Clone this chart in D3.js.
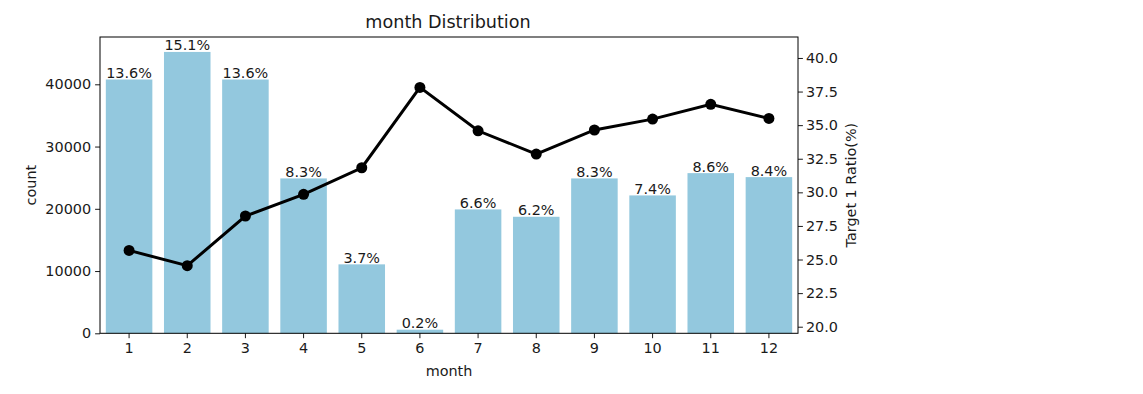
<!DOCTYPE html>
<html>
<head>
<meta charset="utf-8">
<script src="https://cdn.jsdelivr.net/npm/d3@7"></script>
<style>
  body { margin: 0; background: #fff; }
  text { font-family: "DejaVu Sans", sans-serif; }
</style>
</head>
<body>
<div id="chart-area"></div>
<script>
const months = ["1", "2", "3", "4", "5", "6", "7", "8", "9", "10", "11", "12"];
const counts = [40770, 45200, 40770, 24880, 11075, 580, 19900, 18720, 24880, 22150, 25730, 25090];
const pctLabels = ["13.6%", "15.1%", "13.6%", "8.3%", "3.7%", "0.2%", "6.6%", "6.2%", "8.3%", "7.4%", "8.6%", "8.4%"];
const ratios = [25.68, 24.54, 28.24, 29.85, 31.83, 37.81, 34.58, 32.85, 34.64, 35.45, 36.55, 35.5];
const countTicks = [0, 10000, 20000, 30000, 40000];
const ratioTicks = [20, 22.5, 25, 27.5, 30, 32.5, 35, 37.5, 40];

const svgWidth = 1143, svgHeight = 394;
const plotLeft = 100, plotRight = 798, plotTop = 37, plotBottom = 333.3;
const fontSize = 14.4;

const svg = d3.select("#chart-area")
  .append("svg")
    .attr("width", svgWidth)
    .attr("height", svgHeight);

const x = d3.scaleBand()
  .domain(months)
  .range([plotLeft, plotRight])
  .paddingInner(0.2)
  .paddingOuter(0.1);

const y = d3.scaleLinear()
  .domain([0, 47600])
  .range([plotBottom, plotTop]);

const y2 = d3.scaleLinear()
  .domain([19.51, 41.56])
  .range([plotBottom, plotTop]);

// bars
svg.selectAll(".bar")
  .data(counts)
  .enter()
  .append("rect")
    .attr("x", (d, i) => x(months[i]))
    .attr("y", d => y(d))
    .attr("width", x.bandwidth())
    .attr("height", d => plotBottom - y(d))
    .attr("fill", "#93c8de");

svg.selectAll(".pct")
  .data(counts)
  .enter()
  .append("text")
    .text((d, i) => pctLabels[i])
    .attr("x", (d, i) => x(months[i]) + x.bandwidth() / 2)
    .attr("y", d => y(d) - 1.5)
    .attr("text-anchor", "middle")
    .attr("font-size", fontSize)
    .attr("fill", "#1a1a1a");

// line
const line = d3.line()
  .x((d, i) => x(months[i]) + x.bandwidth() / 2)
  .y(d => y2(d));

svg.append("path")
  .datum(ratios)
  .attr("d", line)
  .attr("fill", "none")
  .attr("stroke", "#000")
  .attr("stroke-width", 3);

svg.selectAll(".dot")
  .data(ratios)
  .enter()
  .append("circle")
    .attr("cx", (d, i) => x(months[i]) + x.bandwidth() / 2)
    .attr("cy", d => y2(d))
    .attr("r", 5.5)
    .attr("fill", "#000");

// axes
const fmt = d3.format(".1f");
const styleAxis = g => {
  g.select(".domain").remove();
  g.selectAll("text").attr("font-size", fontSize).attr("fill", "#1a1a1a")
    .attr("font-family", "DejaVu Sans, sans-serif");
  g.selectAll("line").attr("stroke", "#1a1a1a");
};

svg.append("g")
  .attr("transform", `translate(0,${plotBottom})`)
  .call(d3.axisBottom(x).tickSizeOuter(0).tickSize(4.9).tickPadding(5))
  .call(styleAxis);

svg.append("g")
  .attr("transform", `translate(${plotLeft},0)`)
  .call(d3.axisLeft(y).tickValues(countTicks).tickFormat(d3.format("d")).tickSize(4.9).tickPadding(4))
  .call(styleAxis);

svg.append("g")
  .attr("transform", `translate(${plotRight},0)`)
  .call(d3.axisRight(y2).tickValues(ratioTicks).tickFormat(fmt).tickSize(4.9).tickPadding(3))
  .call(styleAxis);

// frame
svg.append("rect")
  .attr("x", plotLeft)
  .attr("y", plotTop)
  .attr("width", plotRight - plotLeft)
  .attr("height", plotBottom - plotTop)
  .attr("fill", "none")
  .attr("stroke", "#000")
  .attr("stroke-width", 1);

// labels
svg.append("text")
  .text("month Distribution")
  .attr("x", (plotLeft + plotRight) / 2 - 1)
  .attr("y", 28)
  .attr("text-anchor", "middle")
  .attr("font-size", 17.6)
  .attr("fill", "#1a1a1a");

svg.append("text")
  .text("month")
  .attr("x", (plotLeft + plotRight) / 2)
  .attr("y", 376)
  .attr("text-anchor", "middle")
  .attr("font-size", fontSize)
  .attr("fill", "#1a1a1a");

svg.append("text")
  .text("count")
  .attr("transform", `translate(36,${(plotTop + plotBottom) / 2}) rotate(-90)`)
  .attr("text-anchor", "middle")
  .attr("font-size", fontSize)
  .attr("fill", "#1a1a1a");

svg.append("text")
  .text("Target 1 Ratio(%)")
  .attr("transform", `translate(856,${(plotTop + plotBottom) / 2}) rotate(-90)`)
  .attr("text-anchor", "middle")
  .attr("font-size", fontSize)
  .attr("fill", "#1a1a1a");
</script>
</body>
</html>
